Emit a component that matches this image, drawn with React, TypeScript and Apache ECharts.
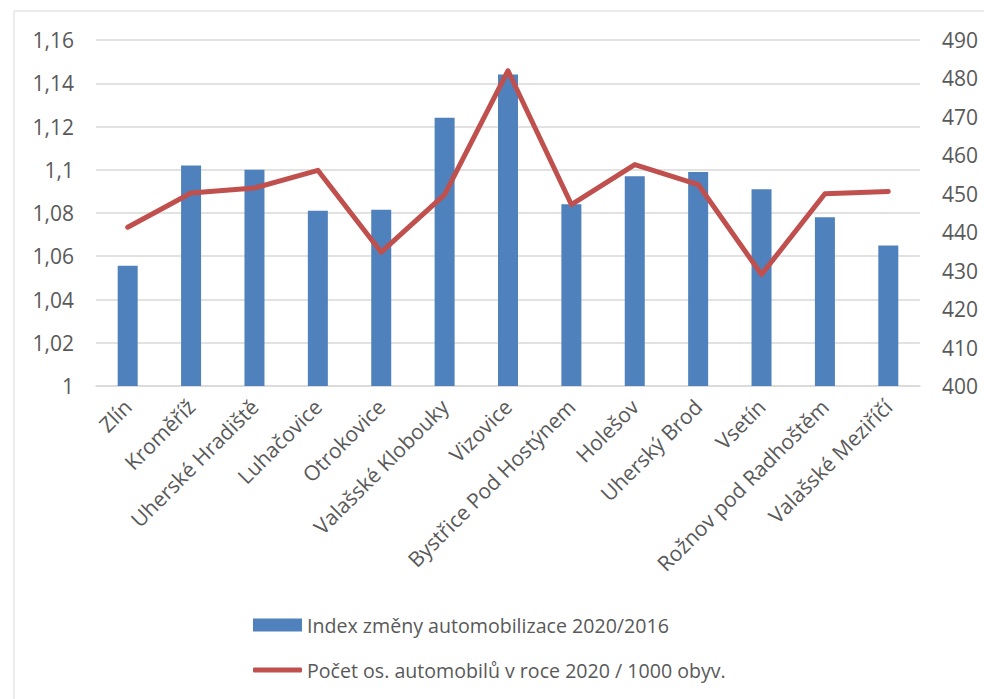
import React, { useEffect, useRef } from "react";
import * as echarts from "echarts";

const categories = [
  "Zlín",
  "Kroměříž",
  "Uherské Hradiště",
  "Luhačovice",
  "Otrokovice",
  "Valašské Klobouky",
  "Vizovice",
  "Bystřice Pod Hostýnem",
  "Holešov",
  "Uherský Brod",
  "Vsetín",
  "Rožnov pod Radhoštěm",
  "Valašské Meziříčí",
];

const indexValues = [1.0556, 1.102, 1.1, 1.081, 1.0815, 1.124, 1.144, 1.084, 1.097, 1.099, 1.091, 1.078, 1.065];
const carsPer1000 = [441.3, 450.2, 451.5, 456.1, 434.8, 449.8, 482, 447.2, 457.6, 452.4, 429, 450, 450.6];

const barName = "Index změny automobilizace 2020/2016";
const lineName = "Počet os. automobilů v roce 2020 / 1000 obyv.";

const FONT = "Open Sans";
const TEXT = "#595959";

export default function App() {
  const ref = useRef<HTMLDivElement>(null);
  useEffect(() => {
    if (!ref.current) return;
    const chart = echarts.init(ref.current, undefined, { renderer: "svg" });
    chart.setOption({
      animation: false,
      backgroundColor: "#ffffff",
      textStyle: { fontFamily: FONT, color: TEXT },
      graphic: [
        {
          type: "rect",
          shape: { x: 14, y: 11, width: 1000, height: 720 },
          style: { fill: "none", stroke: "#d9d9d9", lineWidth: 1 },
          silent: true,
          z: -1,
        },
      ],
      grid: { left: 96, right: 64, top: 40, bottom: 313 },
      legend: [
        {
          orient: "vertical",
          left: 253,
          top: 615,
          padding: 0,
          itemWidth: 49,
          itemHeight: 13,
          textStyle: { fontFamily: FONT, fontSize: 19.6, color: TEXT },
          data: [{ name: barName, icon: "rect" }],
        },
        {
          orient: "vertical",
          left: 253,
          top: 660,
          padding: 0,
          itemWidth: 49,
          itemHeight: 5,
          textStyle: { fontFamily: FONT, fontSize: 19.6, color: TEXT },
          data: [{ name: lineName, icon: "roundRect", itemStyle: { color: "#c0504d" } }],
        },
      ],
      xAxis: {
        type: "category",
        data: categories,
        axisLine: { lineStyle: { color: "#d9d9d9", width: 1.5 } },
        axisTick: { show: false },
        axisLabel: {
          rotate: 45,
          interval: 0,
          margin: 17,
          fontFamily: FONT,
          fontSize: 21,
          color: TEXT,
        },
      },
      yAxis: [
        {
          type: "value",
          min: 1,
          max: 1.16,
          interval: 0.02,
          axisLine: { show: false },
          axisTick: { show: false },
          splitLine: { lineStyle: { color: "#d9d9d9", width: 1.5 } },
          axisLabel: {
            margin: 22,
            fontFamily: FONT,
            fontSize: 21,
            color: TEXT,
            formatter: (v: number) => String(+v.toFixed(2)).replace(".", ","),
          },
        },
        {
          type: "value",
          min: 400,
          max: 490,
          interval: 10,
          axisLine: { show: false },
          axisTick: { show: false },
          splitLine: { show: false },
          axisLabel: {
            margin: 22,
            fontFamily: FONT,
            fontSize: 21,
            color: TEXT,
          },
        },
      ],
      series: [
        {
          name: barName,
          type: "bar",
          data: indexValues,
          barWidth: 20,
          itemStyle: { color: "#4f81bd" },
          yAxisIndex: 0,
        },
        {
          name: lineName,
          type: "line",
          data: carsPer1000,
          yAxisIndex: 1,
          symbol: "none",
          lineStyle: { color: "#c0504d", width: 5, cap: "round", join: "round" },
          itemStyle: { color: "#c0504d" },
          z: 3,
        },
      ],
    });
    return () => chart.dispose();
  }, []);
  return (
    <div
      ref={ref}
      style={{ position: "fixed", left: 0, top: 0, width: 984, height: 699, background: "#fff" }}
    />
  );
}
